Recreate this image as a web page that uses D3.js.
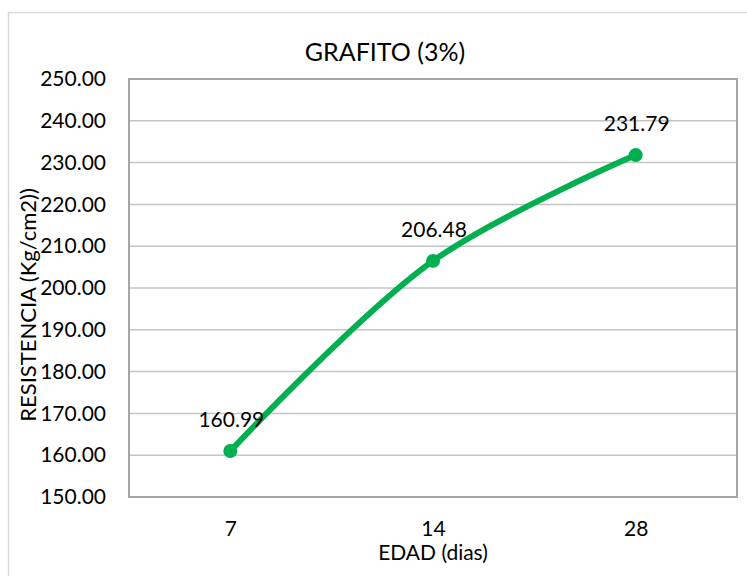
<!DOCTYPE html>
<html lang="es">
<head>
  <meta charset="UTF-8">
  <title>GRAFITO (3%)</title>
  <script src="https://d3js.org/d3.v7.min.js"></script>
  <style>
    html, body { margin: 0; padding: 0; background: #fff; }
    svg { display: block; font-family: Lato, "Open Sans", sans-serif; }
  </style>
</head>
<body>
  <svg id="canvas" width="747" height="576"></svg>
  <script>
    // datos
    let edades = ['7', '14', '28']
    let resistencia = [160.99, 206.48, 231.79]
    let yTicks = [150, 160, 170, 180, 190, 200, 210, 220, 230, 240, 250]

    let svg = d3.select('#canvas')
    let plot = { left: 129, top: 79, right: 737, bottom: 497 }

    // marco exterior del grafico
    svg.append('rect')
      .attr('x', 8.5).attr('y', 12.5)
      .attr('width', 800).attr('height', 700)
      .attr('fill', '#fff')
      .attr('stroke', '#d9d9d9')
      .attr('stroke-width', 1.5)

    let x = d3.scalePoint().domain(edades).range([plot.left, plot.right]).padding(0.5)
    let y = d3.scaleLinear().domain([150, 250]).range([plot.bottom, plot.top])

    // lineas de division
    svg.append('g')
      .selectAll('line')
      .data(yTicks)
      .enter()
      .append('line')
      .attr('x1', plot.left).attr('x2', plot.right)
      .attr('y1', d => y(d)).attr('y2', d => y(d))
      .attr('stroke', '#c4c4c4')
      .attr('stroke-width', 1.5)

    // borde del area de trazado
    svg.append('rect')
      .attr('x', plot.left).attr('y', plot.top)
      .attr('width', plot.right - plot.left).attr('height', plot.bottom - plot.top)
      .attr('fill', 'none')
      .attr('stroke', '#a6a6a6')
      .attr('stroke-width', 2)

    // eje Y
    let yAxis = svg.append('g')
      .attr('transform', `translate(${plot.left},0)`)
      .call(d3.axisLeft(y).tickValues(yTicks).tickFormat(d3.format('.2f')).tickSize(0).tickPadding(23))
    yAxis.select('.domain').remove()
    yAxis.selectAll('text')
      .attr('font-family', 'Lato, sans-serif')
      .attr('font-size', 21)
      .attr('fill', '#000')

    // eje X
    let xAxis = svg.append('g')
      .attr('transform', `translate(0,${plot.bottom})`)
      .call(d3.axisBottom(x).tickSize(0).tickPadding(24))
    xAxis.select('.domain').remove()
    xAxis.selectAll('text')
      .attr('font-family', 'Lato, sans-serif')
      .attr('font-size', 21)
      .attr('fill', '#000')

    // linea suavizada
    let linea = d3.line()
      .x((d, i) => x(edades[i]))
      .y(d => y(d))
      .curve(d3.curveCatmullRom.alpha(0.5))

    svg.append('path')
      .datum(resistencia)
      .attr('d', linea)
      .attr('fill', 'none')
      .attr('stroke', '#00b050')
      .attr('stroke-width', 6)
      .attr('stroke-linecap', 'round')

    svg.append('g')
      .selectAll('circle')
      .data(resistencia)
      .enter()
      .append('circle')
      .attr('cx', (d, i) => x(edades[i]))
      .attr('cy', d => y(d))
      .attr('r', 7)
      .attr('fill', '#00b050')

    // etiquetas de datos
    svg.append('g')
      .selectAll('text')
      .data(resistencia)
      .enter()
      .append('text')
      .attr('x', (d, i) => x(edades[i]) + 1)
      .attr('y', d => y(d) - 24)
      .attr('text-anchor', 'middle')
      .attr('font-size', 21)
      .attr('fill', '#000')
      .text(d => d.toFixed(2))

    // titulos
    svg.append('text')
      .attr('x', 385).attr('y', 61)
      .attr('text-anchor', 'middle')
      .attr('font-size', 25)
      .attr('fill', '#000')
      .text('GRAFITO (3%)')

    svg.append('text')
      .attr('x', (plot.left + plot.right) / 2).attr('y', 560)
      .attr('text-anchor', 'middle')
      .attr('font-size', 21)
      .attr('fill', '#000')
      .text('EDAD (dias)')

    svg.append('text')
      .attr('transform', `translate(36,305) rotate(-90)`)
      .attr('text-anchor', 'middle')
      .attr('font-size', 22)
      .attr('fill', '#000')
      .text('RESISTENCIA (Kg/cm2))')
  </script>
</body>
</html>
